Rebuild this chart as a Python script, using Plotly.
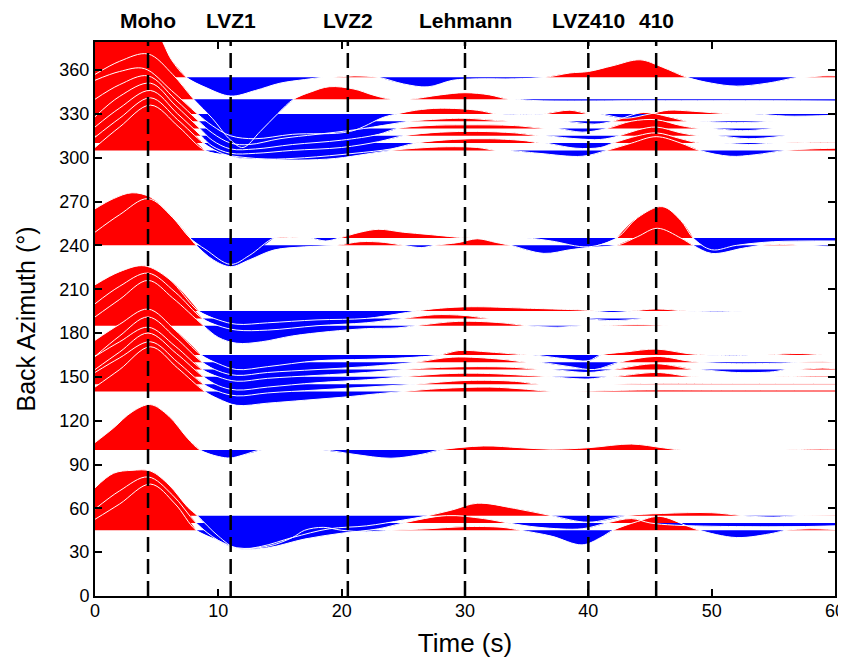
import plotly.graph_objects as go

# ---------------- data ----------------
# phase markers
phase_names = ["Moho", "LVZ1", "LVZ2", "Lehmann", "LVZ410", "410"]
phase_times = [4.3, 11.0, 20.5, 30.0, 40.0, 45.5]

# each receiver function: baseline back-azimuth, knot times (s), amplitudes (deg units)
baz_045 = 45
t_045 = [0, 2, 4.5, 6.5, 8.2, 10, 11.5, 14, 16, 17, 18.5, 20, 22, 24, 27, 30, 33, 34.5, 37, 39.5, 41, 42, 44, 45.8, 48, 49, 52, 55, 56, 58, 60]
a_045 = [7.5, 18, 31.6, 18, 0, -7, -12, -11, -5, 0, 2, 0, -1, 0, 1, 2.5, 2, 0, -4, -10, -5, 0, 6, 9.5, 3, 0, -5, -2, 0, 1, 0.5]

baz_050 = 50
t_050 = [0, 2, 4.3, 6.3, 8.2, 10, 11.5, 14, 17, 20, 23, 25, 28.5, 31.5, 33.5, 36, 39.5, 41.5, 43.5, 45, 47, 52, 57, 60]
a_050 = [9.5, 22, 31.5, 19, 0, -12, -17.5, -17, -11, -7, -4, 0, 5, 3, 0, -3, -4, 0, 3, 0, -1.5, -2.5, -2.5, -2]

baz_055 = 55
t_055 = [0, 1.5, 3, 4.5, 6, 7.5, 8.3, 10, 11.5, 13.5, 16, 19, 22, 25, 27, 29, 31, 34, 37, 40, 43, 46, 50, 52.5, 55, 57, 60]
a_055 = [19, 29, 31, 30.5, 21, 6, 0, -14, -22.5, -21, -15, -9, -7, -3, 0, 4, 8.5, 5, 0, -4.5, 0, 1.5, 2, 0, -1, 0, 0.3]

baz_100 = 100
t_100 = [0, 1.5, 3, 4.5, 6, 7.5, 8.5, 10, 11, 12, 13.5, 18.5, 21, 24, 26.5, 28, 31.5, 34.5, 37, 40, 43.5, 46, 47.5, 56, 58, 60]
a_100 = [5, 15, 26, 31, 23, 8, 0, -4.5, -5.5, -3.5, 0, 0, -3, -5.7, -3, 0, 2.7, 1.5, 0.5, 1.5, 4, 1.5, 0, 0, 0.5, 0.5]

baz_140 = 140
t_140 = [0, 2, 4.5, 6.7, 8.9, 10, 11.5, 14, 17, 20, 23, 25, 28, 32, 35, 37, 39, 44, 50, 60]
a_140 = [3, 15, 30.6, 16, 0, -5, -9.5, -8, -6, -4, -1.5, 0, 2, 3, 1.5, 0, 0, 1, 1, 1]

baz_145 = 145
t_145 = [0, 2, 4.5, 6.7, 8.8, 10, 11.5, 14, 18, 22, 26, 30, 34, 36, 42, 45, 50, 60]
a_145 = [8, 18, 29, 15, 0, -5, -8, -6, -4, -2, 0, 2.5, 2, 0, 0, 0.5, 0.5, 0.5]

baz_150 = 150
t_150 = [0, 2, 4.3, 6.6, 8.8, 10, 11.5, 14, 18, 22, 25, 28, 31, 35, 37, 40, 41.5, 42, 45.5, 48, 49, 55, 58, 60]
a_150 = [5, 17, 30, 16, 0, -6, -9, -7, -4, -2, 0, 2, 2.5, 1, 0, -1.5, 0, 0, 3, 0.5, 0, 0, 0.5, 0.5]

baz_155 = 155
t_155 = [0, 2, 4.3, 6.5, 8.7, 10, 11.5, 14, 18, 22, 25, 28, 31, 34, 36, 37, 40, 42, 45.5, 48.5, 49, 52, 55, 56, 57, 59, 60]
a_155 = [9, 19, 29, 16, 0, -5, -8, -6, -4, -2, 0, 1.5, 2, 1.5, 0, 0, -2, 0, 4, 0, 0, -2, -1.5, 0, 0, 1, 0.5]

baz_160 = 160
t_160 = [0, 2, 4.3, 6.5, 8.7, 10, 11.5, 14, 18, 22, 26, 29, 33, 35, 36, 38.5, 40.5, 42.5, 45.5, 48, 49, 52, 56, 57, 59, 60]
a_160 = [4, 18, 31, 17, 0, -6, -9, -7, -5, -3, 0, 3.5, 2, 0, 0, -3, -5, 0, 4, 1, 0, -1, -0.5, 0, 0.3, 0]

baz_165 = 165
t_165 = [0, 2, 4.3, 6.5, 8.6, 10, 11.5, 14, 18, 22, 25, 28, 29.5, 32, 35, 35.5, 38, 40, 41, 43, 45.5, 48, 49.5, 52, 53, 54.5, 57, 59]
a_165 = [10, 21, 31.4, 17, 0, -6, -10, -8, -4, -3, -2, 0, 3, 2, 0, 0, -2.5, -4, 0, 2, 4, 1, 0, -0.5, 0, 0, 1, 0]

baz_185 = 185
t_185 = [0, 2, 4.3, 6.3, 8.8, 10, 11.5, 13.5, 16, 19, 22, 24.5, 26, 29.5, 33, 35, 37.5, 39.5, 41, 44, 46.5]
a_185 = [6, 18, 31, 19, 0, -8, -12, -11, -7, -4, -2, -1.5, 0, 3, 2, 0, -1, 0, 0, 0.7, 0]

baz_190 = 190
t_190 = [0, 2, 4.3, 6.5, 8.7, 10, 11.5, 14, 18, 22, 25, 27.5, 30, 32, 39.5, 42, 44.5]
a_190 = [10, 22, 31, 18, 0, -5, -8, -8, -5, -3, 0, 2.5, 2, 0, 0, -1.5, 0]

baz_195 = 195
t_195 = [0, 2, 4, 6, 8.4, 10, 11.5, 14, 18, 22, 24.5, 26, 28, 30.5, 35, 40, 40.5, 42, 43.5, 45.5, 48, 50.5, 52.5]
a_195 = [18, 27, 31, 22, 0, -6, -9, -8, -6, -5, -2, 0, 2, 3, 2, 0.5, 0, -1, 0, 1.5, 0, -0.5, 0]

baz_240 = 240
t_240 = [0, 1.5, 3, 4.5, 6, 7.7, 8.2, 9.6, 11, 12.5, 14.5, 17, 19.6, 21.5, 23.5, 25, 26.5, 27.5, 29.5, 31, 32.5, 33.7, 36.4, 38.5, 40, 42.3, 44, 45.6, 47.5, 48.5, 50, 52.5, 54, 55.5, 57, 58, 59, 60]
a_240 = [25, 32, 36, 33, 22, 5, 0, -10, -14.6, -10, -3.2, -1, 0, 2.5, 2, 0, -1.5, 0, 2, 4.5, 2, 0, -5.5, -3, -1.5, 0, 6, 11.7, 5, 0, -5.5, -2, 0, 0.7, 0, 0, -0.5, -0.5]

baz_245 = 245
t_245 = [0, 2, 4.3, 6.3, 7.7, 9, 11, 12.5, 14.5, 15.5, 16.5, 17.5, 18.7, 19.8, 21.5, 23, 25, 27, 29.5, 30.5, 35, 37, 40, 42.3, 44, 46, 47.5, 48.5, 50, 52, 55, 60]
a_245 = [4, 16, 27, 14, 0, -8, -18, -12, 0, 0.5, 0, 0, -2, 0, 4, 6, 4, 2.5, 0.5, 0, 0, -2, -6, 0, 14, 21.5, 12, 0, -8, -5, -2.5, -2]

baz_305 = 305
t_305 = [0, 2, 4.5, 6.8, 8.9, 10.5, 13, 16.5, 19.5, 22, 24, 26, 28.5, 31, 32.5, 33.5, 36, 39.5, 41.5, 43.5, 45.5, 47.5, 49, 51.5, 53.5, 56, 58, 60]
a_305 = [2, 16, 31, 16, 0, -3, -5.5, -6.6, -5.5, -2.5, 0, 1.5, 2.5, 2, 0, 0, -2, -4, 0, 5, 9.4, 5, 0, -4, -3, 0, 1, 1.5]

baz_310 = 310
t_310 = [0, 2, 4.5, 6.7, 8.8, 10, 11.5, 14, 17, 21, 24, 26, 29, 32, 35, 36, 36.5, 39, 41, 42, 44, 45.5, 47.5, 49, 51, 53, 55, 56, 58, 60]
a_310 = [4, 17, 31, 16, 0, -6, -10, -11, -10, -7, -4, 0, 2.5, 3, 1.5, 0, 0, -3.5, -3, 0, 5, 7, 3, 0, 0, -1, 0, 0, 0.5, 0.5]

baz_315 = 315
t_315 = [0, 2, 4.5, 6.7, 8.6, 9.5, 11, 13, 16, 20, 23, 25, 28, 31, 34, 36, 36.5, 39, 41, 42.5, 44, 45.5, 47.5, 49, 50.5, 53, 56]
a_315 = [6, 19, 31, 15, 0, -7, -12, -12, -10, -8, -4, 0, 2.5, 3, 2, 0, 0, -2, -2.5, 0, 4, 6, 2, 0, 0, -2, 0]

baz_320 = 320
t_320 = [0, 2, 4.5, 6.5, 8.5, 9.5, 11, 13, 16, 20, 23, 24.5, 27, 30, 34, 36.5, 37.5, 39.5, 41.5, 43.5, 45.5, 47.5, 49, 50, 52.5, 55]
a_320 = [8, 22, 31, 16, 0, -8, -14, -14, -11, -8, -4, 0, 2, 2.5, 2, 0, 0, -2.5, 0, 5, 6, 2, 0, 0, -1.5, 0]

baz_325 = 325
t_325 = [0, 2, 4.3, 6.5, 8.4, 9.5, 11, 12.5, 15, 18, 21, 24, 25.5, 28, 30, 33.5, 38, 40.5, 42, 44.5, 46.5, 48, 49, 52, 55]
a_325 = [15, 25, 31, 15, 0, -8, -15, -16, -12, -9, -6, -2, 0, 1.5, 2, 0, 0, -2, 0, 6, 3, 0, 0, -1, 0]

baz_330 = 330
t_330 = [0, 2, 4, 6.2, 8.3, 9.5, 11, 13, 16, 20.7, 23.4, 24.5, 26, 28, 31, 32.5, 33, 35, 36.4, 38.5, 40, 41, 43, 45, 46.5, 48.5, 51.5, 53.5, 56, 60]
a_330 = [23, 29, 31, 16, 0, -8, -15, -17, -14, -12, -2.3, 0, 2.5, 3.9, 2.5, 0, 0, -0.5, 0, 2.5, 0, 0, -3, 0, 2.5, 1.8, 0, 0, -1.5, -1]

baz_340 = 340
t_340 = [0, 2, 4.3, 6.3, 8, 9.5, 11, 12, 13.4, 14.8, 16.1, 17.5, 19, 21, 22.5, 24, 25.5, 28, 30, 32, 33.5, 34, 36, 45, 55, 60]
a_340 = [17, 26, 31, 17, 0, -13, -28, -33, -22, -10, 0, 5, 8.6, 7, 3, 0, 0, 3, 4.5, 3, 0, 0, -1, -1, -1, -1.2]

baz_355 = 355
t_355 = [0, 1.5, 3.2, 5, 6.2, 7.4, 9, 11, 13, 15, 17, 18.5, 19.3, 21, 23, 25, 27, 29, 31, 34, 36.5, 38.5, 40, 42, 44.2, 46, 48, 50, 52, 54.5, 57, 57.5, 59, 60]
a_355 = [26, 33, 36, 30, 12, 0, -7, -12.8, -9, -4, -1.5, 0, 0, 1, 0, -4.5, -6.5, -2, -1, -1, 0, 3, 4, 8, 12, 7, 0, -4, -6, -4, 0, 0, 1, 1]

# axis tick values
x_ticks = [0, 10, 20, 30, 40, 50, 60]
y_ticks = [0, 30, 60, 90, 120, 150, 180, 210, 240, 270, 300, 330, 360]

records = [
    (baz_045, t_045, a_045), (baz_050, t_050, a_050), (baz_055, t_055, a_055),
    (baz_100, t_100, a_100),
    (baz_140, t_140, a_140), (baz_145, t_145, a_145), (baz_150, t_150, a_150),
    (baz_155, t_155, a_155), (baz_160, t_160, a_160), (baz_165, t_165, a_165),
    (baz_185, t_185, a_185), (baz_190, t_190, a_190), (baz_195, t_195, a_195),
    (baz_240, t_240, a_240), (baz_245, t_245, a_245),
    (baz_305, t_305, a_305), (baz_310, t_310, a_310), (baz_315, t_315, a_315),
    (baz_320, t_320, a_320), (baz_325, t_325, a_325), (baz_330, t_330, a_330),
    (baz_340, t_340, a_340), (baz_355, t_355, a_355),
]

RED = "#ff0000"
BLUE = "#0000ff"
FONT = "Liberation Sans, Arial, Helvetica, sans-serif"


def split_lobes(ts, amps):
    lobes = []
    cur_t, cur_a = [ts[0]], [amps[0]]
    for t, a in zip(ts[1:], amps[1:]):
        cur_t.append(t)
        cur_a.append(a)
        if a == 0:
            lobes.append((cur_t, cur_a))
            cur_t, cur_a = [t], [a]
    if len(cur_t) > 1:
        lobes.append((cur_t, cur_a))
    return [lb for lb in lobes if any(v != 0 for v in lb[1])]


fig = go.Figure()

# filled lobes (positive red, negative blue), lower back-azimuths first
for b, ts, amps in records:
    for lt, la in split_lobes(ts, amps):
        pos = max(la) > 0
        fig.add_trace(go.Scatter(x=[lt[0], lt[-1]], y=[b, b], mode="lines",
                                 line=dict(width=0), hoverinfo="skip", showlegend=False))
        fig.add_trace(go.Scatter(x=lt, y=[b + v for v in la], mode="lines",
                                 line=dict(width=0, shape="spline", smoothing=1),
                                 fill="tonexty", fillcolor=RED if pos else BLUE,
                                 hoverinfo="skip", showlegend=False))

# thin white outlines of every trace
for b, ts, amps in records:
    fig.add_trace(go.Scatter(x=ts, y=[b + v for v in amps], mode="lines",
                             line=dict(color="white", width=1, shape="spline", smoothing=1),
                             hoverinfo="skip", showlegend=False))

# dashed phase lines and labels
for name, tp in zip(phase_names, phase_times):
    fig.add_shape(type="line", x0=tp, x1=tp, y0=0, y1=1, xref="x", yref="paper",
                  line=dict(color="black", width=2.5, dash="15px,7px"), layer="above")
    fig.add_annotation(x=tp, y=1, xref="x", yref="paper", text=f"<b>{name}</b>",
                       showarrow=False, yanchor="middle", yshift=22,
                       font=dict(family=FONT, size=21, color="black"))

# the page body adds an 8 px border; the figure is sized to fit the window exactly
fig.update_layout(
    width=838, height=650, autosize=False,
    margin=dict(l=87, r=11, t=34, b=62, autoexpand=False),
    paper_bgcolor="white", plot_bgcolor="white",
    font=dict(family=FONT, size=18, color="black"),
    showlegend=False,
)
fig.update_xaxes(range=[0, 60], tickvals=x_ticks, ticks="inside", ticklen=7, tickwidth=1.5,
                 tickcolor="black", showline=True, linewidth=2, linecolor="black", mirror="ticks",
                 showgrid=False, zeroline=False, automargin=False, ticklabelstandoff=-3,
                 ticklabeloverflow="allow",
                 title=dict(text="Time (s)", font=dict(family=FONT, size=26), standoff=20))
fig.update_yaxes(range=[0, 379.2], tickvals=y_ticks, ticks="inside", ticklen=7, tickwidth=1.5,
                 tickcolor="black", showline=True, linewidth=2, linecolor="black", mirror="ticks",
                 showgrid=False, zeroline=False, automargin=False, ticklabeloverflow="allow",
                 title=dict(text="Back Azimuth (°)", font=dict(family=FONT, size=25), standoff=17))

fig.write_html("out.html")
